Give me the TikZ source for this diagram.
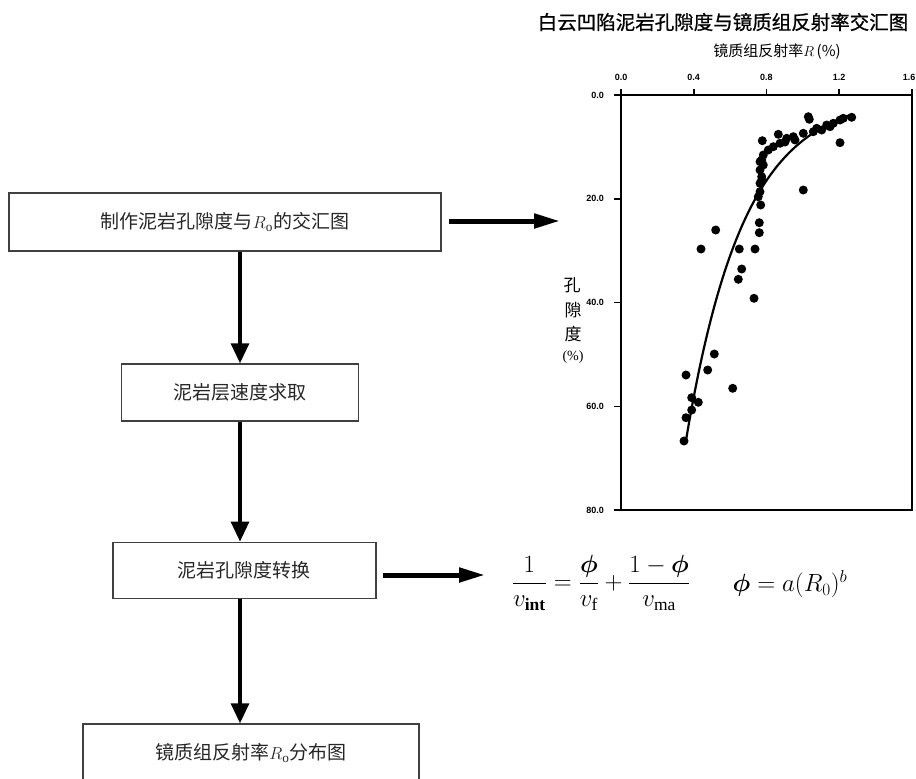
\documentclass[tikz,border=0pt]{standalone}
\usepackage{amsmath}
\usepackage{fontspec}
\usetikzlibrary{arrows.meta}
\newfontfamily\cjk{Noto Sans CJK SC}
\newfontfamily\cjktitle[FakeBold=0.8]{Noto Sans CJK SC}
\newfontfamily\tickfont{Liberation Sans}
\setmainfont{Liberation Serif}
\begin{document}
\begin{tikzpicture}[x=1pt,y=-1pt,
  box/.style={draw=black!75,line width=1.5pt,inner sep=0pt,
    font=\cjk\fontsize{19}{22}\selectfont,text=black!85},
  varr/.style={line width=3.3pt,-{Triangle[length=20pt,width=18pt]}},
  harr/.style={line width=5pt,-{Triangle[length=26pt,width=14pt]}},
  frame/.style={line width=2pt},
  tickl/.style={font=\tickfont\bfseries\fontsize{9}{10}\selectfont,inner sep=0pt},
  dot/.style={fill=black}]
\useasboundingbox (0,0) rectangle (916,779);

% flow boxes
\node[box,minimum width=432pt,minimum height=58pt] (b1) at (225,222)
  {制作泥岩孔隙度与$R_{\mathrm{o}}$的交汇图};
\node[box,minimum width=237pt,minimum height=57pt] (b2) at (240,392.5)
  {泥岩层速度求取};
\node[box,minimum width=263pt,minimum height=56pt] (b3) at (244.3,570.3)
  {泥岩孔隙度转换};
\node[box,minimum width=336pt,minimum height=58pt] (b4) at (251,753)
  {镜质组反射率$R_{\mathrm{o}}$分布图};

\draw[varr] (b1.south -| b2.center) -- (b2.north);
\draw[varr] (b2.south) -- (b3.north -| b2.center);
\draw[varr] (b3.south -| b2.center) -- (b4.north -| b2.center);

\coordinate (p1) at (560,221);
\coordinate (p2) at (485,575);
\draw[harr,shorten <=7pt] (b1.east |- p1) -- (p1);
\draw[harr,shorten <=6pt] (b3.east |- p2) -- (p2);

% formulas
\node[inner sep=0pt,font=\fontsize{25}{30}\selectfont] (f1) at (601,583)
  {$\displaystyle \frac{1}{v_{\mathbf{int}}}=\frac{\boldsymbol{\phi}}{v_{\mathrm{f}}}+\frac{1-\boldsymbol{\phi}}{v_{\mathrm{ma}}}$};
\node[inner sep=0pt,font=\fontsize{26}{30}\selectfont] (f2) at (790,584)
  {$\boldsymbol{\phi}=a(R_{0})^{b}$};

% chart titles
\node[font=\cjktitle\fontsize{19.5}{22}\selectfont,inner sep=0pt] (t1) at (723,22)
  {白云凹陷泥岩孔隙度与镜质组反射率交汇图};
\node[font=\cjk\fontsize{15}{18}\selectfont,inner sep=0pt] (t2) at (777,52)
  {镜质组反射率$R$\,(\%)};

% y label
\node[font=\cjk\fontsize{17}{20}\selectfont,inner sep=0pt] (yl1) at (572,285) {孔};
\node[font=\cjk\fontsize{17}{20}\selectfont,inner sep=0pt] (yl2) at (573,310) {隙};
\node[font=\cjk\fontsize{17}{20}\selectfont,inner sep=0pt] (yl3) at (573,334) {度};
\node[font=\fontsize{14}{16}\selectfont,inner sep=0pt] (yl4) at (573,357) {(\%)};

% frame
\draw[frame] (621,95) rectangle (911.7,510);
% top ticks
\foreach \x/\l in {621/0.0,693.7/0.4,766.3/0.8,839/1.2}{
  \draw[line width=1.6pt] (\x,95) -- (\x,89);
  \node[tickl] at (\x,77) {\l};
}
\draw[line width=1.6pt] (911.7,95) -- (911.7,89);
\node[tickl,anchor=east] at (915.5,77) {1.6};
% left ticks
\foreach \y/\l in {95/0.0,198.8/20.0,302.5/40.0,406.3/60.0,510/80.0}{
  \draw[line width=1.6pt] (621,\y) -- (614,\y);
  \node[tickl,anchor=east] at (604,\y) {\l};
}

% fitted curve
\draw[line width=2.2pt] plot[domain=0.355:1.275,samples=80,smooth]
  ({621+181.7*\x},{95+344.97*exp(-3.15*(\x-0.358))});

% data points
\foreach \p in {(851.7,117.3),(808.3,116.7),(809.3,119.3),(778.3,134.3),(762.3,140.7),(840,142.7),(803.3,190),(760,161.7),(763.3,165),(761.7,180),(760,191.7),(760.7,205),(759.3,222.7),(759.3,232.7),(755,249),(739.3,249),(741.7,269),(738.3,279.3),(754,298.3),(715.7,230),(701,249),(714.3,354),(707.7,370),(686,375),(732.7,388.3),(691.7,397.7),(698.3,402.3),(691.7,410),(686,417.7),(684,441),(840,120),(830,126.7),(821.7,130),(813.3,131.7),(803.3,133.3),(793.3,136.7),(786.7,138.3),(780,143.3),(773.3,146.7),(768.3,150),(763.3,155),(761.7,160),(760,170),(761.7,176.7),(760,183.3),(758.3,196.7),(826.7,125),(816.7,128.3),(843.3,118.3),(833.3,123.3),(795,140),(785,142)}{
  \fill[dot] \p circle (4.5pt);
}
\end{tikzpicture}
\end{document}
